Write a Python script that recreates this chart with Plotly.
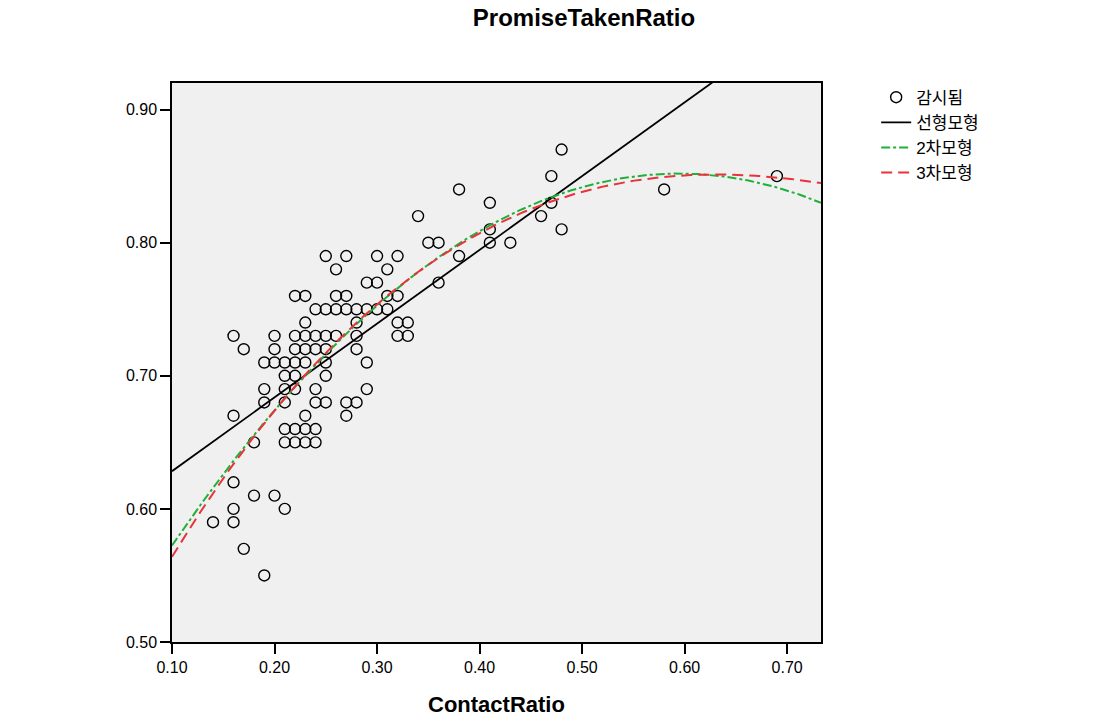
import numpy as np
import plotly.graph_objects as go

contact_ratio = [
    0.25, 0.27, 0.30, 0.32, 0.38,
    0.26, 0.31,
    0.29, 0.30, 0.36,
    0.22, 0.23, 0.26, 0.27, 0.31, 0.32,
    0.24, 0.25, 0.26, 0.27, 0.28, 0.29, 0.30, 0.31,
    0.23, 0.28, 0.32, 0.33,
    0.16, 0.20, 0.22, 0.23, 0.24, 0.25, 0.26, 0.28, 0.32, 0.33,
    0.17, 0.20, 0.22, 0.23, 0.24, 0.25, 0.28,
    0.19, 0.20, 0.21, 0.22, 0.23, 0.25, 0.29,
    0.21, 0.22, 0.25,
    0.19, 0.21, 0.22, 0.24, 0.29,
    0.19, 0.21, 0.24, 0.25, 0.27, 0.28,
    0.16, 0.23, 0.27,
    0.21, 0.22, 0.23, 0.24,
    0.18, 0.21, 0.22, 0.23, 0.24,
    0.16,
    0.18, 0.20,
    0.16, 0.21,
    0.14, 0.16,
    0.17,
    0.19,
    0.35, 0.36, 0.41, 0.43,
    0.41, 0.48,
    0.34, 0.46,
    0.41, 0.47,
    0.38, 0.58,
    0.47, 0.69,
    0.48,
]
promise_taken_ratio = [
    0.79, 0.79, 0.79, 0.79, 0.79,
    0.78, 0.78,
    0.77, 0.77, 0.77,
    0.76, 0.76, 0.76, 0.76, 0.76, 0.76,
    0.75, 0.75, 0.75, 0.75, 0.75, 0.75, 0.75, 0.75,
    0.74, 0.74, 0.74, 0.74,
    0.73, 0.73, 0.73, 0.73, 0.73, 0.73, 0.73, 0.73, 0.73, 0.73,
    0.72, 0.72, 0.72, 0.72, 0.72, 0.72, 0.72,
    0.71, 0.71, 0.71, 0.71, 0.71, 0.71, 0.71,
    0.70, 0.70, 0.70,
    0.69, 0.69, 0.69, 0.69, 0.69,
    0.68, 0.68, 0.68, 0.68, 0.68, 0.68,
    0.67, 0.67, 0.67,
    0.66, 0.66, 0.66, 0.66,
    0.65, 0.65, 0.65, 0.65, 0.65,
    0.62,
    0.61, 0.61,
    0.60, 0.60,
    0.59, 0.59,
    0.57,
    0.55,
    0.80, 0.80, 0.80, 0.80,
    0.81, 0.81,
    0.82, 0.82,
    0.83, 0.83,
    0.84, 0.84,
    0.85, 0.85,
    0.87,
]

legend_labels = ["감시됨", "선형모형", "2차모형", "3차모형"]
x_ticks = [0.10, 0.20, 0.30, 0.40, 0.50, 0.60, 0.70]
y_ticks = [0.50, 0.60, 0.70, 0.80, 0.90]
x_range = [0.10, 0.733]
y_range = [0.50, 0.920]

xs = np.array(contact_ratio)
ys = np.array(promise_taken_ratio)
grid = np.linspace(x_range[0], x_range[1], 300)
fits = {deg: np.polyval(np.polyfit(xs, ys, deg), grid) for deg in (1, 2, 3)}

FONT = "Liberation Sans, Arial, 'Noto Sans CJK KR', sans-serif"

fig = go.Figure()
fig.add_trace(go.Scatter(
    x=contact_ratio, y=promise_taken_ratio, mode="markers", name=legend_labels[0],
    marker=dict(symbol="circle-open", size=11, color="black", line=dict(width=1.4, color="black")),
))
fig.add_trace(go.Scatter(x=grid, y=fits[1], mode="lines", name=legend_labels[1],
                         line=dict(color="black", width=1.8)))
fig.add_trace(go.Scatter(x=grid, y=fits[2], mode="lines", name=legend_labels[2],
                         line=dict(color="#1fb03a", width=2, dash="9px,3px,3px,3px")))
fig.add_trace(go.Scatter(x=grid, y=fits[3], mode="lines", name=legend_labels[3],
                         line=dict(color="#e8333a", width=2, dash="11px,6px")))

axis_common = dict(
    showline=True, linecolor="black", linewidth=1.5, mirror=True,
    ticks="outside", ticklen=10, tickwidth=1.5, tickcolor="black",
    showgrid=False, zeroline=False, tickformat=".2f", automargin=False,
    tickfont=dict(family=FONT, size=16, color="black"),
)
fig.update_xaxes(range=x_range, tickvals=x_ticks, **axis_common)
fig.update_yaxes(range=y_range, tickvals=y_ticks, **axis_common)

fig.add_annotation(text="<b>ContactRatio</b>", xref="paper", yref="paper", x=0.5, y=-0.111,
                   xanchor="center", yanchor="middle", showarrow=False,
                   font=dict(family=FONT, size=22, color="black"))

fig.update_layout(
    width=1120, height=719,
    margin=dict(l=172, r=299, t=83, b=77, autoexpand=False),
    paper_bgcolor="white", plot_bgcolor="#f0f0f0",
    title=dict(text="<b>PromiseTakenRatio</b>", x=(584 / 1120), xanchor="center", y=0.975, yanchor="middle",
               font=dict(family=FONT, size=24, color="black")),
    showlegend=True,
    legend=dict(x=1.085, y=1.006, xanchor="left", yanchor="top", bgcolor="rgba(0,0,0,0)",
                font=dict(family=FONT, size=17, color="black"), tracegroupgap=0, itemwidth=30),
    font=dict(family=FONT),
)

fig.write_html("out.html", config={"displayModeBar": False},
               post_script="document.body.style.margin='0';document.body.style.padding='0';")
